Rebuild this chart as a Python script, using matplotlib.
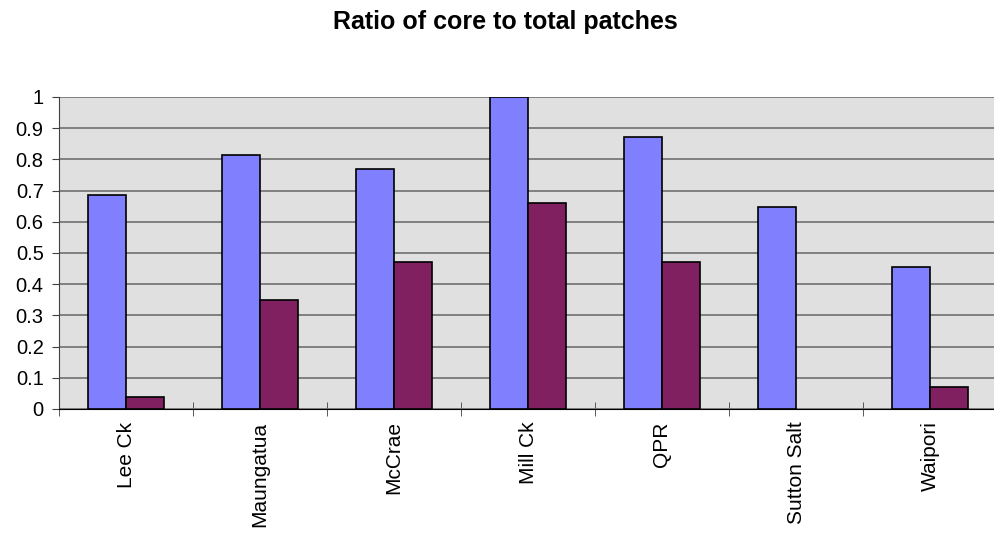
import numpy as np
import matplotlib
matplotlib.use("Agg")
from matplotlib import pyplot as plt

plt.rcParams['font.family'] = ['Liberation Sans', 'DejaVu Sans']

sites = ["Lee Ck", "Maungatua", "McCrae", "Mill Ck", "QPR", "Sutton Salt", "Waipori"]
series_a = [0.686, 0.814, 0.769, 1.0, 0.871, 0.647, 0.454]
series_b = [0.039, 0.349, 0.471, 0.66, 0.471, 0.0, 0.071]

fig = plt.figure(figsize=(9.94, 5.36), dpi=100)
W, H = 994, 536
ax = fig.add_axes([59 / W, (H - 409) / H, (997 - 59) / W, (409 - 97) / H])
ax.set_facecolor("#E0E0E0")

x = np.arange(len(sites))
bw = 0.284
ax.bar(x - bw / 2, series_a, bw, color="#8080FF", edgecolor="black", linewidth=1.2, zorder=3)
# zero-height bars are not drawn with an outline in the original
lw_b = [1.2 if v > 0 else 0 for v in series_b]
ax.bar(x + bw / 2, series_b, bw, color="#802060", edgecolor="black", linewidth=lw_b, zorder=3)

ax.set_xlim(-0.5, len(sites) - 0.5)
ax.set_ylim(0, 1)
ax.set_yticks(np.arange(0, 1.01, 0.1))
ax.set_yticklabels(["0", "0.1", "0.2", "0.3", "0.4", "0.5", "0.6", "0.7", "0.8", "0.9", "1"], fontsize=14.5)
ax.yaxis.grid(True, color="#707070", linewidth=1.2, zorder=1)
ax.set_axisbelow(True)

ax.set_xticks(x)
ax.set_xticklabels(sites, rotation=90, fontsize=15)
ax.tick_params(axis="x", length=0, pad=9)
ax.set_xticks(np.arange(-0.5, len(sites), 1), minor=True)
ax.tick_params(axis="x", which="minor", direction="inout", length=10, color="#404040")
ax.tick_params(axis="y", length=5, color="#404040", pad=6)

for s in ["top", "right"]:
    ax.spines[s].set_visible(False)
ax.spines["left"].set_color("#404040")
ax.spines["bottom"].set_color("black")

fig.text(505 / W, 1 - 29.5 / H, "Ratio of core to total patches", ha="center", va="baseline",
         fontsize=18, fontweight="bold")

fig.savefig("out.png", dpi=100)
